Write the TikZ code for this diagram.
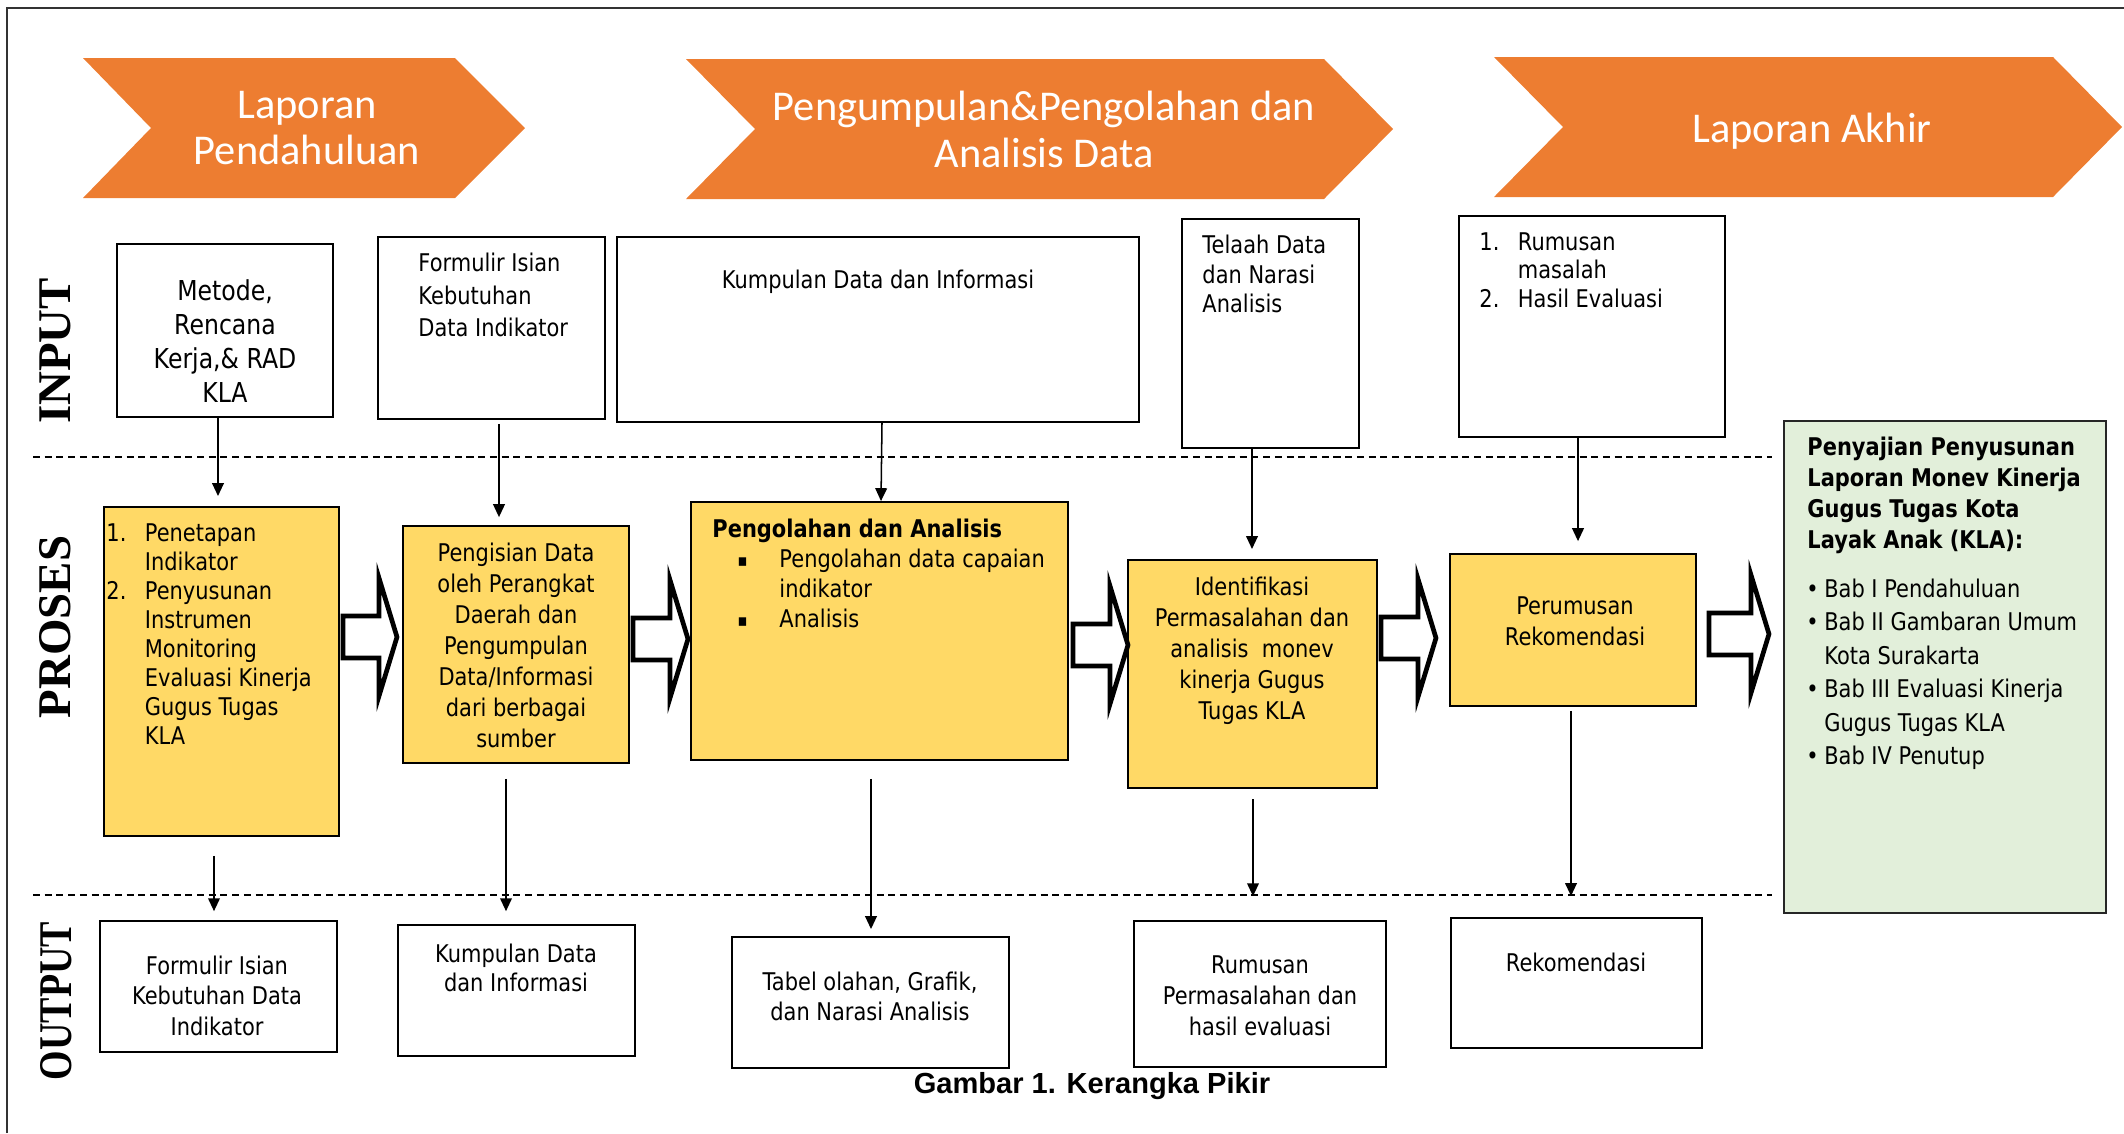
\documentclass[tikz,border=0pt]{standalone}
\usepackage{graphicx}
\usepackage{fontspec}
\usepackage{tikz}
\usetikzlibrary{arrows.meta,fit}

\newfontfamily\tahoma{DejaVu Sans}[FakeStretch=0.86]
\newfontfamily\chevfont{Carlito}
\newfontfamily\capfont{Liberation Sans}
\newfontfamily\lblfont{Liberation Serif}

\definecolor{chevorange}{HTML}{ED7D31}
\definecolor{procyellow}{HTML}{FFD966}
\definecolor{sumgreen}{HTML}{E2EFDA}

\newcommand{\lsk}[1]{\fontsize{10.4pt}{#1pt}\selectfont}
\newcommand{\itm}[1]{\makebox[16.4pt][l]{#1}}
\newcommand{\blt}[1]{\makebox[7.6pt][l]{#1}}
\newcommand{\sqb}{\makebox[17.9pt][l]{\raisebox{0.6pt}{\scalebox{0.7}{▪}}}}
% panah blok: x awal, x ujung, y tengah
\newcommand{\blockarrow}[3]{%
  \draw[blockarr] (#1,#3) ++(0,-21) -- ++({#2-#1-18},0) -- ++(0,-38) -- ++(18,59)
    -- ++(-18,59) -- ++(0,-38) -- ++({#1-#2+18},0) -- cycle;}

\begin{document}
\begin{tikzpicture}[x=0.015cm, y=-0.015cm, >={Triangle[length=5.5pt,width=5pt]},
	inbox/.style={draw, line width=0.8pt, inner sep=0pt},
	procbox/.style={inbox, fill=procyellow},
	txt/.style={inner sep=0pt, align=center, anchor=north, font=\tahoma\lsk{12.8}},
	ltxt/.style={txt, align=left, anchor=north west},
	chevtxt/.style={inner sep=0pt, align=center, text=white, font=\chevfont\fontsize{18.1pt}{20pt}\selectfont},
	lbl/.style={inner sep=0pt, rotate=90, font=\lblfont\bfseries\fontsize{20pt}{24pt}\selectfont},
	conn/.style={->, line width=0.65pt},
	blockarr/.style={draw, fill=white, line width=2pt, line join=miter},
	rowline/.style={dashed, dash pattern=on 3pt off 2pt, line width=0.55pt}]
	\useasboundingbox (0,0) rectangle (2124,1133);
	
	% BINGKAI
	\draw[line width=0.8pt, black!80] (7,1133) -- (7,8) -- (2124,8);
	
	% TAHAPAN (chevron)
	\fill[chevorange] (83,58) -- (455,58) -- (525,128) -- (455,198) -- (83,198) -- (151,128) -- cycle;
	\fill[chevorange] (686,59) -- (1324,59) -- (1393,129) -- (1324,199) -- (686,199) -- (755,129) -- cycle;
	\fill[chevorange] (1494,57) -- (2053,57) -- (2122,127) -- (2053,197) -- (1494,197) -- (1563,127) -- cycle;
	\node[chevtxt] (c1) at (307,128) {Laporan\\Pendahuluan};
	\node[chevtxt] (c2) at (1044,129) {Pengumpulan\&Pengolahan dan\\Analisis Data};
	\node[chevtxt] (c3) at (1812,131) {Laporan Akhir};
	
	% GARIS PEMISAH
	\draw[rowline] (33,457) -- (1772,457);
	\draw[rowline] (33,895) -- (1772,895);
	
	% LABEL BARIS
	\node[lbl] (lin) at (55,351) {INPUT};
	\node[lbl] (lpr) at (55,627) {PROSES};
	\node[lbl] (lout) at (56,1001) {\scalebox{0.81}[1]{OUTPUT}};
	
	% INPUT
	\node[inbox, fit={(117,244) (333,417)}] (i1) {};
	\node[inbox, fit={(378,237) (605,419)}] (i2) {};
	\node[inbox, fit={(617,237) (1139,422)}] (i3) {};
	\node[inbox, fit={(1182,219) (1359,448)}] (i4) {};
	\node[inbox, fit={(1459,216) (1725,437)}] (i5) {};
	\node[txt, font=\tahoma\fontsize{11.7pt}{14.5pt}\selectfont] (i1t) at (225,279) {Metode,\\Rencana\\Kerja,\& RAD\\KLA};
	\node[ltxt, font=\tahoma\lsk{13.7}] (i2t) at (418,253) {Formulir Isian\\Kebutuhan\\Data Indikator};
	\node[txt] (i3t) at (878,270) {Kumpulan Data dan Informasi};
	\node[ltxt, font=\tahoma\lsk{12.4}] (i4t) at (1202,235) {Telaah Data\\dan Narasi\\Analisis};
	\node[ltxt, font=\tahoma\lsk{12.2}] (i5t) at (1479,232) {\itm{1.}Rumusan\\\hspace*{16.4pt}masalah\\\itm{2.}Hasil Evaluasi};
	
	% PROSES
	\node[procbox, fit={(104,507) (339,836)}] (p1) {};
	\node[procbox, fit={(403,526) (629,763)}] (p2) {};
	\node[procbox, fit={(691,502) (1068,760)}] (p3) {};
	\node[procbox, fit={(1128,560) (1377,788)}] (p4) {};
	\node[procbox, fit={(1450,554) (1696,706)}] (p5) {};
	\node[ltxt, font=\tahoma\lsk{12.4}] (p1t) at (106,523) {\itm{1.}Penetapan\\\hspace*{16.4pt}Indikator\\\itm{2.}Penyusunan\\\hspace*{16.4pt}Instrumen\\\hspace*{16.4pt}Monitoring\\\hspace*{16.4pt}Evaluasi Kinerja\\\hspace*{16.4pt}Gugus Tugas\\\hspace*{16.4pt}KLA};
	\node[txt, font=\tahoma\lsk{13.2}] (p2t) at (516,543) {Pengisian Data\\oleh Perangkat\\Daerah dan\\Pengumpulan\\Data/Informasi\\dari berbagai\\sumber};
	\node[ltxt] (p3t) at (712,519) {\textbf{Pengolahan dan Analisis}\\\hspace*{10.7pt}\sqb Pengolahan data capaian\\\hspace*{28.6pt}indikator\\\hspace*{10.7pt}\sqb Analisis};
	\node[txt, font=\tahoma\lsk{13.2}] (p4t) at (1252,577) {Identifikasi\\Permasalahan dan\\analisis\ \ monev\\kinerja Gugus\\Tugas KLA};
	\node[txt, font=\tahoma\lsk{13.2}] (p5t) at (1575,596) {Perumusan\\Rekomendasi};
	
	\blockarrow{343}{397}{637}
	\blockarrow{633}{688}{639}
	\blockarrow{1073}{1128}{645}
	\blockarrow{1381}{1436}{638}
	\blockarrow{1709}{1769}{634}
	
	% OUTPUT
	\node[inbox, fit={(100,921) (337,1052)}] (o1) {};
	\node[inbox, fit={(398,925) (635,1056)}] (o2) {};
	\node[inbox, fit={(732,937) (1009,1068)}] (o3) {};
	\node[inbox, fit={(1134,921) (1386,1067)}] (o4) {};
	\node[inbox, fit={(1451,918) (1702,1048)}] (o5) {};
	\node[txt, font=\tahoma\lsk{13.2}] (o1t) at (217,955) {Formulir Isian\\Kebutuhan Data\\Indikator};
	\node[txt] (o2t) at (516,943) {Kumpulan Data\\dan Informasi};
	\node[txt, font=\tahoma\lsk{13.2}] (o3t) at (870,971) {Tabel olahan, Grafik,\\dan Narasi Analisis};
	\node[txt, font=\tahoma\lsk{13.2}] (o4t) at (1260,955) {Rumusan\\Permasalahan dan\\hasil evaluasi};
	\node[txt] (o5t) at (1576,952) {Rekomendasi};
	
	% LAPORAN AKHIR (kotak hijau)
	\node[inbox, fill=sumgreen, draw=black!85, fit={(1784,421) (2106,913)}] (lap) {};
	\node[ltxt, font=\tahoma\bfseries\lsk{13.2}] (lapj) at (1807,437) {Penyajian Penyusunan\\Laporan Monev Kinerja\\Gugus Tugas Kota\\Layak Anak (KLA):};
	\node[ltxt, font=\tahoma\lsk{14.3}] (lapb) at (1806,578) {\blt{•}Bab I Pendahuluan\\\blt{•}Bab II Gambaran Umum\\\hspace*{7.6pt}Kota Surakarta\\\blt{•}Bab III Evaluasi Kinerja\\\hspace*{7.6pt}Gugus Tugas KLA\\\blt{•}Bab IV Penutup};
	
	% PANAH INPUT -> PROSES
	\draw[conn, shorten >=4.3pt] (218,0 |- i1.south) -- (218,0 |- p1.north);
	\draw[conn, shorten <=1.7pt, shorten >=3.4pt] (499,0 |- i2.south) -- (499,0 |- p2.north);
	\draw[conn] (882,0 |- i3.south) -- (881,0 |- p3.north);
	\draw[conn, shorten >=4.3pt] (1252,0 |- i4.south) -- (1252,0 |- p4.north);
	\draw[conn, shorten >=5.1pt] (1578,0 |- i5.south) -- (1578,0 |- p5.north);
	
	% PANAH PROSES -> OUTPUT
	\draw[conn, shorten <=8.1pt, shorten >=3.8pt] (214,0 |- p1.south) -- (214,0 |- o1.north);
	\draw[conn, shorten <=6.4pt, shorten >=5.5pt] (506,0 |- p2.south) -- (506,0 |- o2.north);
	\draw[conn, shorten <=7.7pt, shorten >=3pt] (871,0 |- p3.south) -- (871,0 |- o3.north);
	\draw[conn, shorten <=4.3pt, shorten >=10.2pt] (1253,0 |- p4.south) -- (1253,0 |- o4.north);
	\draw[conn, shorten <=1.7pt, shorten >=9pt] (1571,0 |- p5.south) -- (1571,0 |- o5.north);
	
	% JUDUL GAMBAR
	\node[anchor=base, inner sep=0pt, font=\capfont\bfseries\fontsize{12.4pt}{14pt}\selectfont] (judul) at (1092,1093) {Gambar 1. Kerangka Pikir};
\end{tikzpicture}
\end{document}
